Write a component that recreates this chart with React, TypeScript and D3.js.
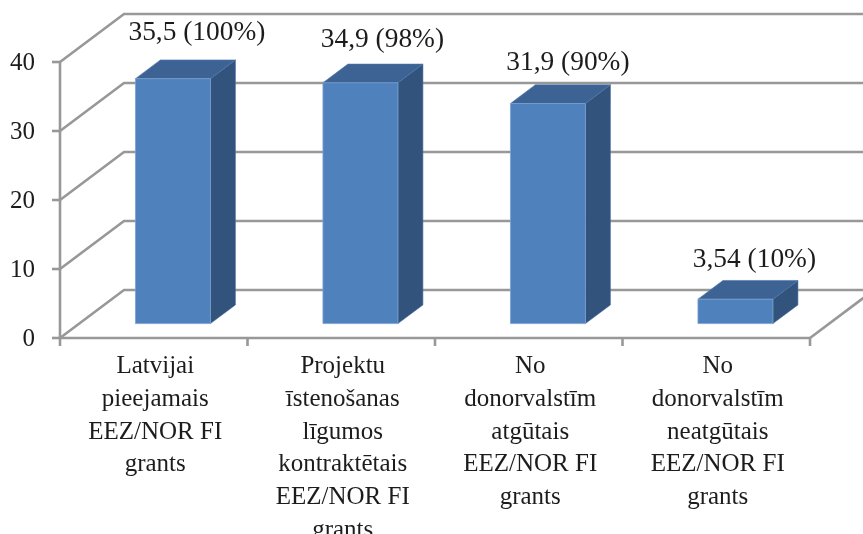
import React from 'react';
import * as d3 from 'd3';

const width = 863;
const height = 534;

const categories = [
  ['Latvijai', 'pieejamais', 'EEZ/NOR FI', 'grants'],
  ['Projektu', 'īstenošanas', 'līgumos', 'kontraktētais', 'EEZ/NOR FI', 'grants'],
  ['No', 'donorvalstīm', 'atgūtais', 'EEZ/NOR FI', 'grants'],
  ['No', 'donorvalstīm', 'neatgūtais', 'EEZ/NOR FI', 'grants'],
];
const values = [35.5, 34.9, 31.9, 3.54];
const valueLabels = ['35,5 (100%)', '34,9 (98%)', '31,9 (90%)', '3,54 (10%)'];
const yTicks = [0, 10, 20, 30, 40];

// hand placed labels in the original, offset from the bar's back top edge
const labelNudgeX = [25, 23, 21, 20];
const labelNudgeY = [-20, -17, -15, -13];

const wallDx = 64;
const wallDy = -48;
const barZ0 = 0.3;
const barZ1 = 0.69;

const gridColor = '#989898';
const textColor = '#1c1c1c';
const font = '"Liberation Serif", serif';

const x = d3
  .scaleBand<number>()
  .domain(d3.range(categories.length))
  .range([60, 810])
  .paddingInner(0.6)
  .paddingOuter(0.3);
const y = d3.scaleLinear().domain([0, 40]).range([338, 62]);
const step = x.step();

// oblique projection: z=0 is the front of the box, z=1 the back wall
const project = (px: number, value: number, z: number): [number, number] => [
  px + z * wallDx,
  y(value) + z * wallDy,
];
const poly = (pts: [number, number][]) => d3.line()(pts) + 'Z';

export default function App() {
  return (
    <svg
      width={width}
      height={height}
      style={{ position: 'absolute', left: 0, top: 0, background: '#fff' }}
    >
      <defs>
        <filter id="soft" x="-5%" y="-5%" width="110%" height="110%">
          <feGaussianBlur stdDeviation="0.45" />
        </filter>
      </defs>
      <g filter="url(#soft)">
        {/* walls and gridlines */}
        <g fill="none" stroke={gridColor} strokeWidth={2.6}>
          {yTicks.map(t => (
            <path
              key={t}
              d={d3.line()([
                [60, y(t)],
                project(60, t, 1),
                project(810, t, 1),
              ]) as string}
            />
          ))}
          <path d={d3.line()([[810, y(0)], project(810, 0, 1)]) as string} />
          <line x1={60} x2={60} y1={y(40)} y2={y(0)} />
          <line x1={60} x2={810} y1={y(0)} y2={y(0)} />
          {yTicks.map(t => (
            <line key={t} x1={52} x2={60} y1={y(t)} y2={y(t)} />
          ))}
          {d3.range(categories.length + 1).map(i => (
            <line key={i} x1={60 + i * step} x2={60 + i * step} y1={y(0)} y2={y(0) + 8} />
          ))}
        </g>

        {/* bars */}
        {values.map((v, i) => {
          const x0 = x(i) as number;
          const x1 = x0 + x.bandwidth();
          const top = [
            project(x0, v, barZ0),
            project(x1, v, barZ0),
            project(x1, v, barZ1),
            project(x0, v, barZ1),
          ];
          const side = [
            project(x1, 0, barZ0),
            project(x1, v, barZ0),
            project(x1, v, barZ1),
            project(x1, 0, barZ1),
          ];
          const front = [
            project(x0, 0, barZ0),
            project(x1, 0, barZ0),
            project(x1, v, barZ0),
            project(x0, v, barZ0),
          ];
          return (
            <g key={i}>
              <path d={poly(side)} fill="#30527c" stroke="#4a6f9e" strokeWidth={0.6} />
              <path d={poly(top)} fill="#3c6494" stroke="#4a75aa" strokeWidth={0.6} />
              <path d={poly(front)} fill="#4f81bd" stroke="#7ba2d2" strokeWidth={0.8} />
            </g>
          );
        })}

        {/* value labels */}
        {values.map((v, i) => {
          const [lx, ly] = project((x(i) as number) + x.bandwidth() / 2, v, barZ1);
          return (
            <text
              key={i}
              x={lx - (barZ1 - barZ0) * wallDx + labelNudgeX[i] - 1}
              y={ly + labelNudgeY[i]}
              textAnchor="middle"
              fontFamily={font}
              fontSize={27.4}
              fill={textColor}
            >
              {valueLabels[i]}
            </text>
          );
        })}

        {/* y axis labels */}
        {yTicks.map(t => (
          <text
            key={t}
            x={35}
            y={y(t) + 8}
            textAnchor="end"
            fontFamily={font}
            fontSize={25}
            fill={textColor}
          >
            {t}
          </text>
        ))}

        {/* category labels */}
        {categories.map((lines, i) => (
          <text
            key={i}
            textAnchor="middle"
            fontFamily={font}
            fontSize={25}
            fill={textColor}
          >
            {lines.map((l, j) => (
              <tspan key={j} x={(x(i) as number) + x.bandwidth() / 2 + 1.5} y={373 + j * 32.8}>
                {l}
              </tspan>
            ))}
          </text>
        ))}
      </g>
    </svg>
  );
}
